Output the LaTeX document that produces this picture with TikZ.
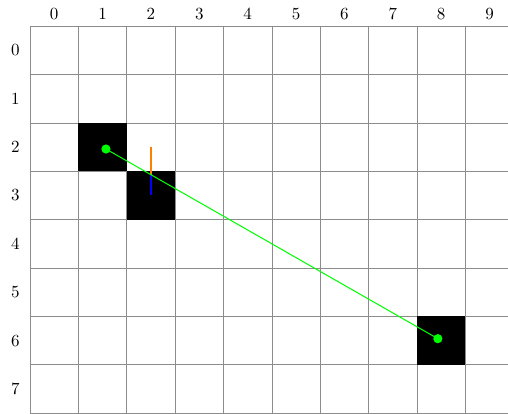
\documentclass[tikz,border=0pt]{standalone}
\usepackage{tikz}
\usetikzlibrary{positioning}
\tikzset{
    gridline/.style={draw=gray!90, line width=0.45pt},
    wall/.style={fill=black},
    waypoint/.style={circle, fill=green, inner sep=0pt, minimum size=1.9mm},
    sightline/.style={draw=green, line width=0.6pt},
    rayfront/.style={draw=orange, line width=1.7pt},
    rayback/.style={draw=blue, line width=1.7pt},
    axislabel/.style={inner sep=1pt}
}

\begin{document}
\begin{tikzpicture}
    \useasboundingbox (-0.62,0.54) rectangle (9.88,-8.0);
    % grid and labels
    \draw[gridline] (0,0) grid (10,-8);
    \foreach \c in {0,...,9}
        \node[axislabel] (col\c) at (\c+0.5,0.25) {\c};
    \foreach \r in {0,...,7}
        \node[axislabel] (row\r) at (-0.3,-\r-0.5) {\r};
    % blocked cells
    \fill[wall] (1,-2) rectangle (2,-3);
    \fill[wall] (2,-3) rectangle (3,-4);
    \fill[wall] (8,-6) rectangle (9,-7);
    % ray through column 2
    \coordinate (raytop) at (2.5,-2.5);
    \coordinate (rayhit) at (2.5,-3.0714);
    \coordinate (raybot) at (2.5,-3.5);
    \draw[rayfront] (raytop) -- (rayhit);
    \draw[rayback] (rayhit) -- (raybot);
    % endpoints and line of sight
    \node[waypoint] (start) at (1.57,-2.54) {};
    \node[waypoint] (goal) at (8.43,-6.46) {};
    \draw[sightline] (start.center) -- (goal.center);
\end{tikzpicture}
\end{document}
